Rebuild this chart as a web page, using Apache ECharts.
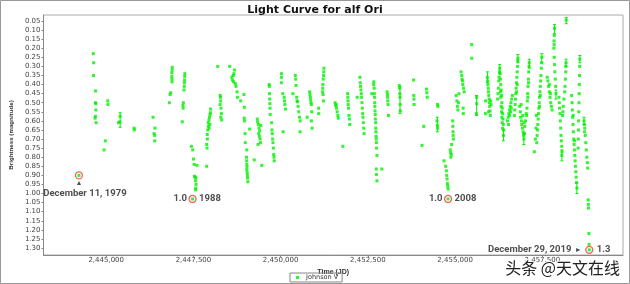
<!DOCTYPE html>
<html><head><meta charset="utf-8">
<script src="https://cdn.jsdelivr.net/npm/echarts@6/dist/echarts.min.js"></script>
<style>html,body{margin:0;padding:0;background:#fff}#c{width:630px;height:284px}</style>
</head><body><div id="c"></div>
<script>
// ---------- tick labels ----------
const xTicks = [2445000, 2447500, 2450000, 2452500, 2455000, 2457500];
const yTicks = [0.05,0.10,0.15,0.20,0.25,0.30,0.35,0.40,0.45,0.50,0.55,0.60,0.65,0.70,0.75,0.80,0.85,0.90,0.95,1.00,1.05,1.10,1.15,1.20,1.25,1.30];
const xMin = 2443202, xMax = 2459812;
const yMin = 0.017, yMax = 1.3385;

// ---------- Johnson V observations [JD, magnitude] ----------
const obs1979to1989 = [
[2444218,0.90],
[2444629,0.23],[2444640,0.28],[2444635,0.35],[2444695,0.435],[2444690,0.50],[2444700,0.505],[2444705,0.54],[2444690,0.575],[2444680,0.585],[2444710,0.61],
[2444940,0.76],[2444975,0.71],
[2445043,0.49],[2445050,0.51],
[2445350,0.61],[2445390,0.605],[2445400,0.575],
[2445799,0.64],[2445805,0.65],
[2446341,0.58],[2446398,0.64],[2446370,0.67],[2446390,0.68],[2446390,0.71],
[2446810,0.50],[2446830,0.455],[2446850,0.445],[2446880,0.335],[2446880,0.355],[2446885,0.37],[2446885,0.385],[2446892,0.305],[2446892,0.32],
[2447180,0.605],[2447200,0.515],[2447205,0.53],[2447210,0.50],[2447230,0.43],[2447235,0.41],[2447240,0.39],[2447245,0.375],[2447250,0.355],[2447255,0.34],
[2447440,0.74],[2447474,1.03],[2447480,0.76],[2447500,0.81],[2447520,0.84],[2447530,0.905],[2447550,0.91],[2447560,0.93],[2447560,0.98],[2447565,0.97],[2447570,0.915],[2447575,0.95],[2447600,0.845],
[2447880,0.85],[2447880,0.73],[2447890,0.75],[2447895,0.675],[2447900,0.70],[2447910,0.65],[2447925,0.61],[2447930,0.63],[2447945,0.595],[2447950,0.64],[2447960,0.58],[2447970,0.62],[2447975,0.565],[2447985,0.555],[2447990,0.535]
];
const obs1990to1999 = [
[2448196,0.30],
[2448265,0.51],[2448268,0.46],[2448275,0.47],[2448280,0.49],[2448285,0.58],[2448290,0.53],[2448300,0.56],[2448310,0.595],
[2448540,0.30],[2448600,0.36],[2448620,0.375],[2448640,0.35],[2448650,0.385],[2448660,0.34],[2448680,0.32],[2448700,0.395],[2448720,0.41],[2448750,0.44],[2448760,0.47],
[2448853,0.49],
[2448947,0.455],[2448955,0.585],[2448960,0.525],[2448965,0.60],[2448980,0.67],[2448985,0.72],
[2449020,0.80],[2449025,0.82],[2449028,0.87],[2449030,0.76],[2449030,0.84],[2449035,0.855],[2449040,0.885],[2449045,0.90],[2449050,0.915],[2449060,0.935],
[2449110,0.645],[2449244,0.815],
[2449330,0.59],[2449340,0.605],[2449350,0.73],[2449360,0.62],[2449370,0.67],[2449380,0.64],[2449390,0.685],[2449400,0.655],[2449410,0.70],[2449420,0.72],[2449430,0.625],[2449460,0.845],
[2449670,0.40],[2449675,0.41],[2449680,0.45],[2449685,0.48],[2449690,0.505],[2449695,0.53],[2449700,0.565],
[2449740,0.61],[2449750,0.65],[2449760,0.67],[2449770,0.70],[2449780,0.72],[2449790,0.75],[2449800,0.785],[2449810,0.80],[2449815,0.82],
[2450020,0.39],[2450023,0.34],[2450025,0.36],[2450060,0.45],[2450070,0.66],[2450100,0.47],[2450110,0.49],[2450120,0.51],[2450140,0.535],
[2450350,0.45],[2450420,0.35],[2450430,0.37],[2450440,0.405],[2450460,0.47],[2450470,0.49],[2450480,0.495],[2450500,0.52],[2450520,0.55],[2450540,0.58],[2450557,0.66],[2450560,0.60],
[2450760,0.58],[2450830,0.44],[2450840,0.455],[2450850,0.47],[2450860,0.485],[2450870,0.50],[2450880,0.51],[2450880,0.60],[2450890,0.55],[2450900,0.64],
[2451088,0.53],[2451090,0.56],
[2451200,0.44],[2451205,0.42],[2451210,0.40],[2451215,0.455],[2451220,0.37],[2451225,0.49],[2451230,0.35],[2451235,0.33],[2451240,0.31],
[2451560,0.50],[2451580,0.515],[2451590,0.51],[2451600,0.53],[2451620,0.55],[2451640,0.57],[2451650,0.585]
];
const obs2000to2010 = [
[2451784,0.74],
[2451920,0.45],[2451925,0.47],[2451930,0.49],[2451935,0.51],[2451945,0.53],[2451960,0.57],[2451970,0.59],[2451980,0.62],
[2452192,0.47],
[2452270,0.36],[2452280,0.39],[2452290,0.41],[2452300,0.43],[2452310,0.45],[2452320,0.47],[2452330,0.50],[2452340,0.53],[2452350,0.56],[2452360,0.58],[2452370,0.61],[2452380,0.64],[2452390,0.67],
[2452610,0.45],
[2452665,0.40],[2452670,0.385],[2452680,0.42],[2452685,0.45],[2452690,0.47],[2452695,0.50],[2452700,0.52],[2452705,0.545],[2452710,0.565],[2452715,0.59],[2452720,0.61],[2452725,0.64],[2452730,0.66],[2452735,0.685],[2452740,0.70],[2452745,0.72],[2452750,0.75],[2452760,0.79],
[2452740,0.865],[2452745,0.895],[2452760,0.93],[2452900,0.865],
[2453050,0.44],[2453060,0.455],[2453065,0.47],[2453070,0.49],[2453080,0.51],[2453090,0.57],
[2453400,0.405],[2453410,0.42],[2453415,0.45],[2453420,0.47],[2453425,0.51],[2453430,0.545],
[2453810,0.375],[2453815,0.46],[2453820,0.48],[2453825,0.51],
[2454050,0.735],[2454100,0.63],
[2454180,0.425],[2454190,0.445],[2454200,0.47],
[2454480,0.60],[2454490,0.625],[2454495,0.51],[2454500,0.64],[2454505,0.52],
[2454683,0.82],
[2454730,0.85],[2454750,0.875],[2454760,0.90],[2454770,0.92],[2454780,0.945],[2454790,0.96],[2454798,1.03],[2454800,0.975],
[2454860,0.76],[2454870,0.775],[2454880,0.80],[2454890,0.785],[2454900,0.73],
[2454930,0.60],[2454935,0.63],[2454940,0.66],[2454945,0.68],[2454950,0.70],
[2455030,0.46],[2455050,0.49],[2455065,0.52],[2455080,0.54],[2455100,0.50],[2455110,0.45],
[2455170,0.33],[2455190,0.35],[2455200,0.37],[2455210,0.38],[2455220,0.40],[2455230,0.53],[2455235,0.56],[2455240,0.42],[2455260,0.44]
];
const obs2010to2019 = [
[2455474,0.18],[2455474,0.255],
[2455610,0.56],[2455617,0.47],[2455620,0.505],
[2455870,0.56],[2455874,0.49],
[2455925,0.36],[2455935,0.38],[2455940,0.40],[2455950,0.42],[2455955,0.44],[2455965,0.46],[2455975,0.48],[2455980,0.50],[2455990,0.52],[2456000,0.545],[2456010,0.57],[2455960,0.55],[2456020,0.49],[2456030,0.51],
[2456220,0.48],[2456230,0.45],[2456240,0.42],[2456250,0.38],[2456260,0.36],[2456270,0.33],[2456280,0.31],[2456290,0.34],[2456300,0.37],[2456310,0.40],[2456320,0.43],[2456330,0.46],[2456340,0.50],[2456350,0.53],[2456360,0.56],[2456370,0.59],[2456380,0.62],[2456390,0.65],[2456385,0.68],[2456300,0.44],[2456310,0.47],[2456320,0.52],[2456330,0.55],[2456340,0.58],[2456350,0.61],[2456360,0.64],
[2456500,0.60],[2456520,0.58],[2456540,0.56],[2456560,0.54],[2456580,0.52],[2456600,0.50],[2456620,0.48],[2456640,0.46],[2456530,0.62],[2456560,0.57],[2456590,0.55],[2456610,0.53],
[2456700,0.57],[2456710,0.54],[2456720,0.51],[2456730,0.48],[2456740,0.45],[2456750,0.42],[2456760,0.39],[2456770,0.36],[2456780,0.33],[2456790,0.30],[2456795,0.27],[2456800,0.255],[2456760,0.44],[2456780,0.40],
[2456850,0.52],[2456870,0.55],[2456880,0.58],[2456900,0.60],[2456910,0.62],[2456930,0.64],[2456950,0.66],[2456960,0.68],[2456970,0.70],[2456990,0.67],[2457000,0.63],[2457020,0.60],[2457040,0.56],[2456890,0.51],[2456940,0.57],[2456980,0.61],
[2457050,0.57],[2457060,0.53],[2457070,0.49],[2457080,0.45],[2457090,0.41],[2457100,0.37],[2457110,0.33],[2457120,0.30],[2457125,0.28],[2457085,0.47],[2457105,0.39],
[2457272,0.77],[2457300,0.70],[2457320,0.64],[2457330,0.57],
[2457340,0.72],[2457350,0.68],[2457360,0.65],[2457370,0.62],[2457380,0.59],[2457390,0.56],[2457400,0.53],[2457410,0.50],[2457420,0.47],[2457430,0.44],[2457440,0.41],[2457450,0.38],[2457460,0.35],[2457470,0.31],[2457480,0.28],[2457485,0.25],[2457420,0.52],[2457440,0.46],
[2457640,0.36],[2457660,0.38],[2457680,0.41],[2457700,0.44],[2457720,0.47],[2457740,0.50],[2457760,0.52],[2457780,0.54],[2457700,0.40],[2457730,0.45],
[2457830,0.20],[2457840,0.25],[2457850,0.29],[2457860,0.33],[2457870,0.37],[2457880,0.41],[2457890,0.45],[2457835,0.16],[2457838,0.18],[2457843,0.13],[2457848,0.09],
[2457975,0.47],[2457985,0.50],[2457995,0.53],[2458005,0.56],[2458015,0.60],[2458025,0.64],[2458035,0.68],[2458045,0.71],[2458055,0.74],[2458065,0.77],[2458060,0.79],
[2458080,0.57],[2458090,0.55],[2458100,0.52],[2458120,0.48],[2458140,0.44],[2458150,0.41],[2458160,0.37],[2458170,0.33],[2458175,0.30],[2458180,0.28],[2458185,0.045],
[2458340,0.46],[2458350,0.50],[2458360,0.54],[2458370,0.58],[2458380,0.62],[2458390,0.66],[2458400,0.70],[2458410,0.73],[2458420,0.76],[2458430,0.79],[2458440,0.82],[2458450,0.85],[2458460,0.88],[2458470,0.91],[2458480,0.94],[2458490,0.97],[2458380,0.57],[2458420,0.71],
[2458525,0.75],[2458530,0.70],[2458535,0.65],[2458540,0.60],[2458545,0.55],[2458550,0.50],[2458555,0.45],[2458560,0.40],[2458565,0.35],[2458570,0.30],[2458575,0.26],
[2458695,0.60],[2458705,0.62],[2458715,0.64],[2458730,0.68],[2458745,0.72],[2458760,0.76],[2458775,0.80],[2458790,0.83],[2458800,0.86],[2458710,0.66],
[2458815,1.035],[2458818,1.06],[2458822,1.08],[2458835,1.22],[2458840,1.28],[2458846,1.31]
];
// error bars [JD, low mag, high mag]
const errorBars = [
[2445400,0.555,0.635],[2453420,0.41,0.56],[2454490,0.58,0.66],[2455617,0.46,0.57],
[2455925,0.33,0.39],[2456280,0.29,0.34],[2456385,0.65,0.71],[2456800,0.235,0.28],
[2456970,0.67,0.73],[2457125,0.26,0.31],[2457485,0.23,0.28],[2457848,0.07,0.12],
[2457890,0.43,0.48],[2458060,0.76,0.82],[2458185,0.03,0.065],[2458180,0.26,0.30],
[2458490,0.94,1.0],[2458575,0.24,0.28],[2458695,0.58,0.62]
];
// annotations
const annJD = [2444218, 2447474, 2454798, 2458846];
const annMag = [0.90, 1.03, 1.03, 1.31];
const annLeft = ['', '1.0', '1.0', 'December 29, 2019'];
const annRight = ['', '1988', '2008', '1.3'];
const annBelow = ['December 11, 1979', '', '', ''];

const GREEN = '#00f000';
const RED = '#e8403a';
const allObs = [].concat(obs1979to1989, obs1990to1999, obs2000to2010, obs2010to2019);

const annFont = {fontFamily:'Roboto', fontWeight:'bold', fontSize:9.5, color:'#222'};
const ringItems = annJD.map((jd, i) => [jd, annMag[i]]);
const labelItems = [];
annJD.forEach((jd, i) => {
  const v = [jd, annMag[i]];
  if (annLeft[i]) {
    const isLong = annLeft[i].length > 5;
    labelItems.push({value: v, label: {show: true, position: 'left', distance: isLong ? 4 : 2,
      formatter: isLong ? '{t|' + annLeft[i] + '}{a|  ►}' : annLeft[i],
      rich: {t: annFont, a: {fontSize: 7, color: '#222'}}, ...annFont}});
  }
  if (annRight[i]) {
    labelItems.push({value: v, label: {show: true, position: 'right', distance: annRight[i].length > 3 ? 3 : 4,
      formatter: annRight[i], ...annFont}});
  }
  if (annBelow[i]) {
    labelItems.push({value: v, label: {show: true, position: 'bottom', distance: 1,
      formatter: '▲', fontSize: 7, color: '#222'}});
    labelItems.push({value: v, label: {show: true, position: 'bottom', distance: 10, offset: [6, 0],
      formatter: annBelow[i], ...annFont}});
  }
});

const chart = echarts.init(document.getElementById('c'), null, {renderer: 'canvas'});
chart.setOption({
  animation: false,
  backgroundColor: '#fff',
  title: {text: 'Light Curve for alf Ori', left: 'center', top: 0,
    textStyle: {fontFamily: 'DejaVu Sans', fontWeight: 'bold', fontSize: 11, color: '#111'}},
  grid: {left: 41, top: 15, width: 582, height: 240, show: true, borderColor: '#aaa', borderWidth: 1},
  legend: {data: ['Johnson V'], left: 290, bottom: 2, itemWidth: 3, itemHeight: 3, itemGap: 0,
    padding: [1, 4, 1, 6], borderColor: '#888', borderWidth: 1, icon: 'rect',
    textStyle: {fontFamily: 'DejaVu Sans', fontSize: 6.5, color: '#333', lineHeight: 6, padding: [0, 0, 0, 2]}},
  xAxis: {type: 'value', min: xMin, max: xMax,
    name: 'Time (JD)', nameLocation: 'middle', nameGap: 7,
    nameTextStyle: {fontFamily: 'Liberation Sans', fontWeight: 'bold', fontSize: 7, color: '#333'},
    axisLine: {onZero: false, lineStyle: {color: '#888'}},
    axisTick: {customValues: xTicks, length: 2, lineStyle: {color: '#888'}},
    axisLabel: {customValues: xTicks, margin: 2, fontFamily: 'DejaVu Sans', fontSize: 7, color: '#444',
      formatter: v => Number(v).toLocaleString('en-US')},
    splitLine: {show: false}},
  yAxis: {type: 'value', min: yMin, max: yMax, inverse: true,
    name: 'Brightness (magnitude)', nameLocation: 'middle', nameGap: 25, nameRotate: 90,
    nameTextStyle: {fontFamily: 'Liberation Sans', fontWeight: 'bold', fontSize: 6.2, color: '#333'},
    axisLine: {onZero: false, lineStyle: {color: '#888'}},
    axisTick: {customValues: yTicks, length: 2, lineStyle: {color: '#888'}},
    axisLabel: {customValues: yTicks, margin: 3, fontFamily: 'DejaVu Sans', fontSize: 7, color: '#444',
      formatter: v => Number(v).toFixed(2)},
    splitLine: {show: false}},
  graphic: [
    {type: 'rect', silent: true, z: -10, shape: {x: 0.5, y: 0.5, width: 629, height: 283},
      style: {fill: null, stroke: '#999', lineWidth: 1}},
    {type: 'text', right: 9, top: 259, z: 100,
      style: {text: '头条 @天文在线', fontFamily: 'Noto Sans CJK SC', fontSize: 16, fill: '#222',
        stroke: '#fff', lineWidth: 2}}
  ],
  series: [
    {type: 'scatter', symbol: 'circle', symbolSize: 7, z: 1, silent: true,
      itemStyle: {color: '#fff', borderColor: RED, borderWidth: 1.3},
      data: ringItems},
    {type: 'custom', silent: true, z: 2,
      renderItem: (params, api) => {
        const x = api.value(0);
        const a = api.coord([x, api.value(1)]);
        const b = api.coord([x, api.value(2)]);
        const st = {stroke: GREEN, lineWidth: 1};
        return {type: 'group', children: [
          {type: 'line', shape: {x1: a[0], y1: a[1], x2: b[0], y2: b[1]}, style: st},
          {type: 'line', shape: {x1: a[0] - 1.5, y1: a[1], x2: a[0] + 1.5, y2: a[1]}, style: st},
          {type: 'line', shape: {x1: b[0] - 1.5, y1: b[1], x2: b[0] + 1.5, y2: b[1]}, style: st}
        ]};
      },
      encode: {x: 0, y: [1, 2]},
      data: errorBars},
    {name: 'Johnson V', type: 'scatter', symbol: 'rect', symbolSize: 3, z: 3,
      itemStyle: {color: GREEN}, data: allObs},
    {type: 'scatter', symbol: 'circle', symbolSize: 7, z: 4, silent: true,
      itemStyle: {color: 'rgba(0,0,0,0)'},
      data: labelItems}
  ]
});
</script>
</body></html>
